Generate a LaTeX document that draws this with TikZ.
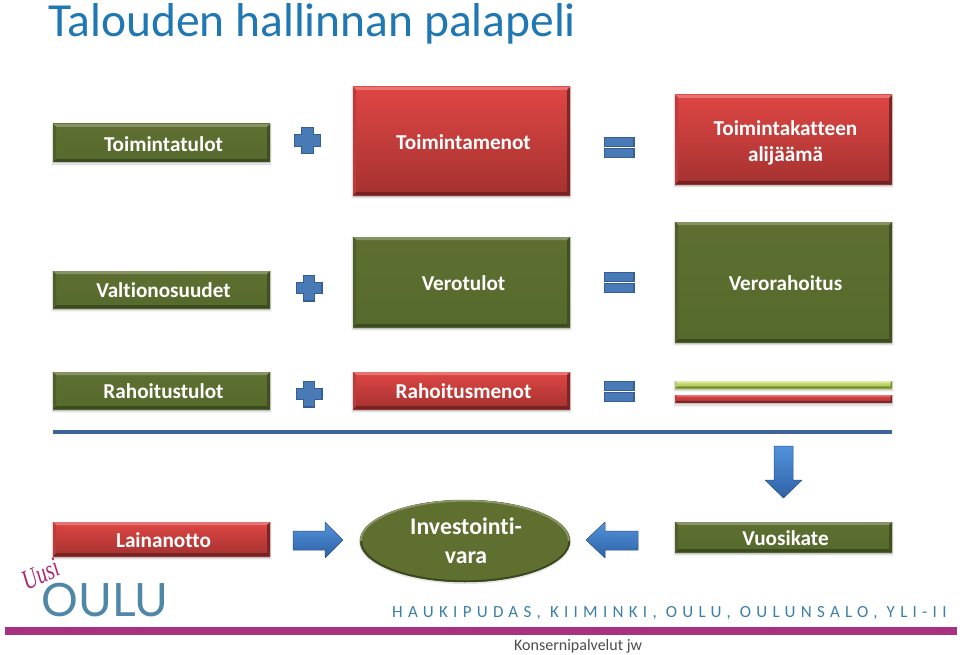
\documentclass[tikz,border=0pt]{standalone}
\usepackage{fontspec}
\setmainfont{Carlito}[Ligatures=NoCommon]
\newfontfamily\spacedfont[LetterSpace=31,Ligatures=NoCommon]{Carlito}
\newfontfamily\logofont{Lato}
\newfontfamily\uusifont{Liberation Serif}
\usetikzlibrary{calc,shapes.geometric}
\definecolor{gtop}{HTML}{5E6F30}
\definecolor{gbot}{HTML}{566A2D}
\definecolor{rtop}{HTML}{DE4644}
\definecolor{rbot}{HTML}{A53230}
\definecolor{ltop}{HTML}{D4E68A}
\definecolor{lbot}{HTML}{9BBB3C}
\definecolor{btop}{HTML}{5293DC}
\definecolor{bbot}{HTML}{2F62A5}
\definecolor{bedge}{HTML}{345F96}
\definecolor{bfill}{HTML}{4A7AB5}
\definecolor{titleblue}{HTML}{1F77B4}
\definecolor{cityblue}{HTML}{3C7FA8}
\definecolor{logoblue}{HTML}{4F87A9}
\definecolor{barpurple}{HTML}{A8327F}
\definecolor{magentaink}{HTML}{B0246F}
\definecolor{ruleblue}{HTML}{3E6499}
\tikzset{
  x=1pt,y=-1pt,
  boxlabel/.style={font=\fontsize{21.2}{26}\selectfont\bfseries,text=white,align=center,inner sep=0pt,outer sep=0pt,rectangle},
  symshape/.style={fill=bfill,draw=bedge,line width=1.2pt,line join=miter},
  arrowshape/.style={top color=btop,bottom color=bbot,draw=bedge!85!black,line width=.5pt,line join=round},
}
% name x0 y0 x1 y1 top bottom depth text
\newcommand{\bevelbox}[9]{%
  \pgfmathsetmacro{\bw}{#4-#2}\pgfmathsetmacro{\bh}{#5-#3}%
  \pgfmathsetmacro{\bcx}{(#2+#4)/2}\pgfmathsetmacro{\bcy}{(#3+#5)/2}%
  \fill[black,opacity=.04] (#2-2,#3) rectangle (#4+2,#5+4);
  \fill[black,opacity=.08] (#2-1,#3) rectangle (#4+1,#5+3);
  \fill[black,opacity=.14] (#2,#3) rectangle (#4,#5+1.5);
  \node[boxlabel,top color=#6,bottom color=#7,minimum width=\bw pt,minimum height=\bh pt] (#1) at (\bcx,\bcy) {};
  \fill[#6!75!white] (#1.north west) -- (#1.north east) -- ++(-#8,#8) -- ($(#1.north west)+(#8,#8)$) -- cycle;
  \fill[#7!70!black] (#1.south west) -- (#1.south east) -- ++(-#8,-#8) -- ($(#1.south west)+(#8,-#8)$) -- cycle;
  \fill[#6!85!black] (#1.north west) -- ($(#1.north west)+(#8,#8)$) -- ($(#1.south west)+(#8,-#8)$) -- (#1.south west) -- cycle;
  \fill[#7!75!black] (#1.north east) -- ($(#1.north east)+(-#8,#8)$) -- ($(#1.south east)+(-#8,-#8)$) -- (#1.south east) -- cycle;
  \node[boxlabel] (#1-t) at (\bcx+2,\bcy+.7) {#9};
}
% plus: left top size
\newcommand{\plussign}[3]{%
  \draw[symshape] (#1+#3*.28,#2) -- (#1+#3*.72,#2) -- (#1+#3*.72,#2+#3*.28) -- (#1+#3,#2+#3*.28) -- (#1+#3,#2+#3*.72) -- (#1+#3*.72,#2+#3*.72) -- (#1+#3*.72,#2+#3) -- (#1+#3*.28,#2+#3) -- (#1+#3*.28,#2+#3*.72) -- (#1,#2+#3*.72) -- (#1,#2+#3*.28) -- (#1+#3*.28,#2+#3*.28) -- cycle;
}
% equals: left top
\newcommand{\equalsign}[2]{%
  \draw[symshape] (#1,#2) rectangle (#1+29.5,#2+9);
  \draw[symshape] (#1,#2+11) rectangle (#1+29.5,#2+20);
}
\begin{document}
\begin{tikzpicture}
\useasboundingbox (0,0) rectangle (960,655);
\fill[white] (0,0) rectangle (960,655);
\node[font=\fontsize{47.5}{56}\selectfont,text=titleblue,anchor=west,inner sep=0pt] (title) at (48,23.5) {Talouden hallinnan palapeli};

\bevelbox{a1}{53}{124}{270}{162}{gtop}{gbot}{3}{Toimintatulot}
\bevelbox{a2}{353}{87}{570}{195}{rtop}{rbot}{3}{Toimintamenot}
\bevelbox{a3}{675}{95}{892}{184}{rtop}{rbot}{3}{\rule{0pt}{20pt}Toimintakatteen\\alijäämä}
\bevelbox{b1}{53}{271}{270}{308}{gtop}{gbot}{3}{Valtionosuudet}
\bevelbox{b2}{353}{237}{570}{327}{gtop}{gbot}{3}{Verotulot}
\bevelbox{b3}{675}{222}{892}{342}{gtop}{gbot}{3}{Verorahoitus}
\bevelbox{c1}{53}{372}{270}{409}{gtop}{gbot}{3}{Rahoitustulot}
\bevelbox{c2}{353}{372}{570}{409}{rtop}{rbot}{3}{Rahoitusmenot}
\bevelbox{c3}{675}{381}{892}{388}{ltop}{lbot}{1.5}{}
\bevelbox{c4}{675}{395}{892}{402.5}{rtop}{rbot}{1.5}{}
\bevelbox{d1}{53}{522}{270}{556}{rtop}{rbot}{3}{Lainanotto}
\bevelbox{d3}{675}{522}{892}{552}{gtop}{gbot}{3}{Vuosikate}

\plussign{294.5}{127.5}{26}
\plussign{296.5}{275.5}{25.5}
\plussign{296.5}{381.5}{25.5}
\equalsign{604.5}{137.5}
\equalsign{604.5}{272.5}
\equalsign{604.5}{381.5}

\fill[ruleblue] (53,430) rectangle (892,434);

\draw[arrowshape] (293,531) -- (325,531) -- (325,522) -- (343,540) -- (325,558) -- (325,550) -- (293,550) -- cycle;
\draw[arrowshape] (638,531) -- (605,531) -- (605,522) -- (586,540) -- (605,558) -- (605,550) -- (638,550) -- cycle;
\draw[arrowshape] (774,446) -- (793,446) -- (793,480) -- (802,480) -- (783.5,498) -- (765,480) -- (774,480) -- cycle;

\fill[black,opacity=.10] (465,542) ellipse [x radius=106,y radius=42];
\node[ellipse,minimum width=210pt,minimum height=82pt,inner sep=0pt,fill=gtop,draw=gbot!85!black,line width=.5pt] (inv) at (465,541) {};
\draw[gtop!70!white,line width=1.6pt] (inv.west) ++(1,0) arc[start angle=180,end angle=360,x radius=104,y radius=40.2];
\draw[gbot!65!black,line width=1.6pt] (inv.east) ++(-1,0) arc[start angle=0,end angle=180,x radius=104,y radius=40.2];
\node[boxlabel,font=\fontsize{23.8}{29}\selectfont\bfseries] (inv-t) at (466,541) {Investointi-\\vara};

\node[font=\fontsize{46}{50}\selectfont,text=logoblue,inner sep=0pt] (oulu) at (105,600) {\logofont OULU};
\node[text=magentaink,rotate=24,inner sep=0pt,xscale=.72,font=\fontsize{28}{30}\selectfont] (uusi) at (40.5,574) {\uusifont\itshape Uusi};

\node[font=\fontsize{17}{20}\selectfont,text=cityblue,anchor=west,inner sep=0pt] (cities) at (392,613.5) {\spacedfont HAUKIPUDAS, KIIMINKI, OULU, OULUNSALO, YLI-II};
\fill[barpurple] (5,627) rectangle (957,634.5);
\node[font=\fontsize{16}{20}\selectfont,text=black!70,anchor=west,inner sep=0pt] (foot) at (514,646.5) {Konsernipalvelut jw};
\end{tikzpicture}
\end{document}
